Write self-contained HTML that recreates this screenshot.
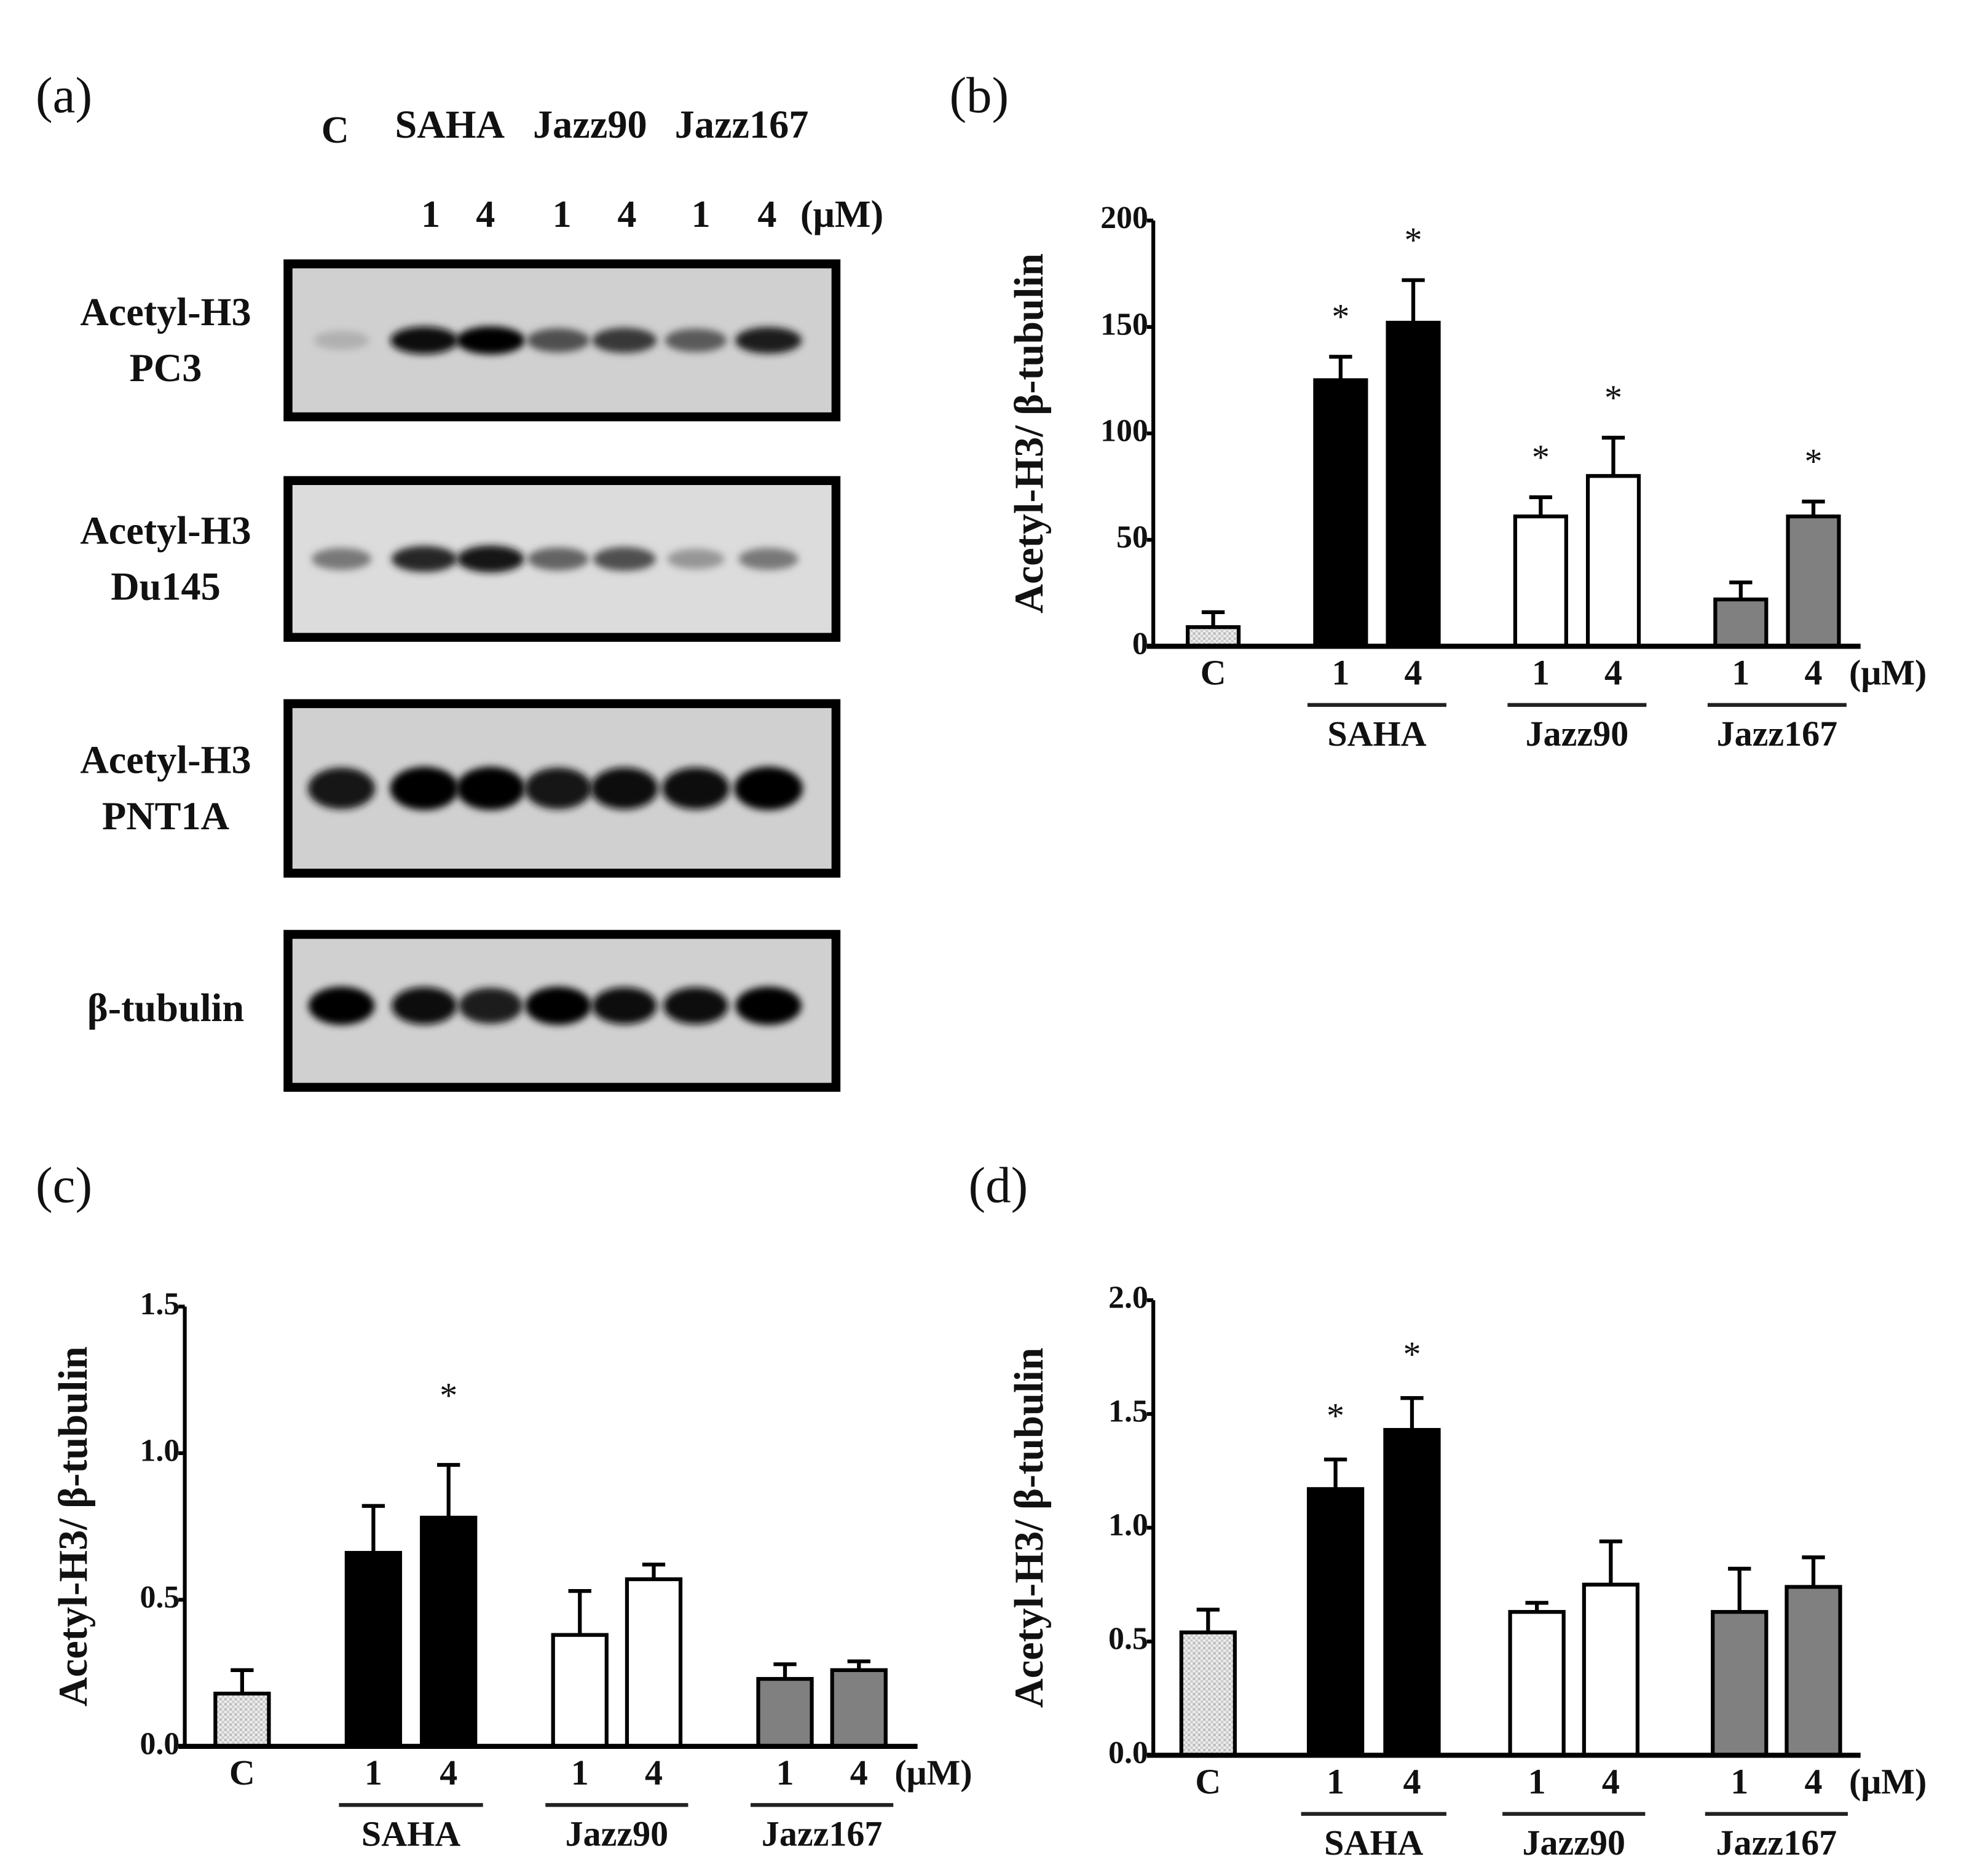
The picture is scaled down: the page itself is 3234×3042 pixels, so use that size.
<!DOCTYPE html>
<html><head><meta charset="utf-8">
<style>
html,body{margin:0;padding:0;background:#fff;}
svg{display:block;}
text{font-family:"Liberation Serif",serif;fill:#111;}
.b{font-weight:bold;}
</style></head>
<body>
<svg id="fig" width="3234" height="3042" viewBox="0 0 1560 1467" preserveAspectRatio="none" xmlns="http://www.w3.org/2000/svg">
<defs>
<pattern id="dots" width="4" height="4" patternUnits="userSpaceOnUse">
<rect width="4" height="4" fill="#eee"/><rect width="2" height="2" fill="#bbb"/><rect x="2" y="2" width="2" height="2" fill="#ccc"/>
</pattern>
<filter id="blur" x="-50%" y="-100%" width="200%" height="300%"><feGaussianBlur stdDeviation="3"/></filter>
</defs>
<g id="panelA">
<text x="28" y="88" font-size="40">(a)</text>
<text class="b" x="263" y="112" font-size="30" text-anchor="middle">C</text>
<text class="b" x="353" y="108" font-size="31" text-anchor="middle">SAHA</text>
<text class="b" x="463" y="108" font-size="31" text-anchor="middle">Jazz90</text>
<text class="b" x="582" y="108" font-size="31" text-anchor="middle">Jazz167</text>
<g id="doseHdr"></g>
<g id="blots"></g>
</g>
<g id="chartB"></g>
<g id="chartC"></g>
<g id="chartD"></g>
</svg>
<script>
// ---------- Data ----------
const categories = ["C","SAHA 1","SAHA 4","Jazz90 1","Jazz90 4","Jazz167 1","Jazz167 4"];
const doseLabels = ["C","1","4","1","4","1","4"];
const groupNames = ["SAHA","Jazz90","Jazz167"];
const fills = ["url(#dots)","#000","#000","#fff","#fff","#808080","#808080"];

const valuesB = [9,125,152,61,80,22,61];
const errB = [16,136,172,70,98,30,68];
const starsB = [false,true,true,true,true,false,true];
const ticksB = [0,50,100,150,200];
const tickLabelsB = ["0","50","100","150","200"];

const valuesC = [0.18,0.66,0.78,0.38,0.57,0.23,0.26];
const errC = [0.26,0.82,0.96,0.53,0.62,0.28,0.29];
const starsC = [false,false,true,false,false,false,false];
const ticksC = [0,0.5,1.0,1.5];
const tickLabelsC = ["0.0","0.5","1.0","1.5"];

const valuesD = [0.54,1.17,1.43,0.63,0.75,0.63,0.74];
const errD = [0.64,1.30,1.57,0.67,0.94,0.82,0.87];
const starsD = [false,true,true,false,false,false,false];
const ticksD = [0,0.5,1.0,1.5,2.0];
const tickLabelsD = ["0.0","0.5","1.0","1.5","2.0"];

// blot band intensities (0..1) per lane
const bandPC3 = [0.12,0.95,1.0,0.6,0.72,0.55,0.85];
const bandDu145 = [0.4,0.8,0.9,0.5,0.6,0.25,0.4];
const bandPNT1A = [0.9,1.0,1.0,0.9,0.92,0.92,1.0];
const bandTub = [1.0,0.95,0.85,1.0,0.92,0.92,1.0];

const NS = "http://www.w3.org/2000/svg";
function mk(tag, attrs, parent){const e=document.createElementNS(NS,tag);for(const k in attrs)e.setAttribute(k,attrs[k]);parent.appendChild(e);return e;}

// ---------- Panel A ----------
const laneX = [268,333,385,438,490,546,603];
const hdr = document.getElementById('doseHdr');
for(let i=1;i<7;i++){
  const t=mk('text',{x:[0,338,381,441,492,550,602][i],y:178,'font-size':30,'text-anchor':'middle','class':'b'},hdr);
  t.textContent=doseLabels[i];
  
  
}
{const t=mk('text',{x:628,y:178,'font-size':30,'class':'b'},hdr);t.textContent="(μM)";

}

const blotG=document.getElementById('blots');
const boxes=[[207,327],[377,500],[552,685],[733,853]];
const bandSets=[bandPC3,bandDu145,bandPNT1A,bandTub];
const bandH=[16,16,28,24];
const bandW=[21,21,21,20];
const labelLines=[["Acetyl-H3","PC3"],["Acetyl-H3","Du145"],["Acetyl-H3","PNT1A"],["β-tubulin"]];
boxes.forEach((bx,bi)=>{
  const g=mk('g',{},blotG);
  
  
  const r=mk('rect',{x:226,y:bx[0],width:430,height:bx[1]-bx[0],fill:bi==1?'#dcdcdc':'#d0d0d0',stroke:'#000','stroke-width':7},g);
  
  
  const cy=(bx[0]+bx[1])/2+ (bi==3?-4:0);
  bandSets[bi].forEach((v,li)=>{
    const c=Math.round(200*(1-v));
    const e=mk('ellipse',{cx:laneX[li],cy:cy,rx:bandW[bi]+v*6,ry:bandH[bi]*(0.5+0.5*v)/2+3,fill:`rgb(${c},${c},${c})`,filter:'url(#blur)'},g);
    
    
  });
  const lines=labelLines[bi];
  lines.forEach((s,k)=>{
    const y = lines.length==2 ? cy-12+k*44 : cy+12;
    const t=mk('text',{x:130,y:y,'font-size':31,'text-anchor':'middle','class':'b'},g);
    t.textContent=s;
    
    
  });
});

// ---------- Charts ----------
function chart(gid,cfg){
  const g=document.getElementById(gid);
  const yS=v=>cfg.y0-(v/cfg.ymax)*(cfg.y0-cfg.ytop);
  const lab=mk('text',{x:cfg.labelX,y:cfg.labelY,'font-size':40},g);
  lab.textContent=cfg.label;
  
  
  const yt=mk('text',{x:0,y:0,'font-size':32,'class':'b','text-anchor':'middle',transform:`translate(${cfg.titleX},${(cfg.y0+cfg.ytop)/2}) rotate(-90)`},g);
  yt.textContent="Acetyl-H3/ β-tubulin";
  
  
  cfg.values.forEach((v,i)=>{
    const cx=cfg.xs[i], w=cfg.bw;
    const el=mk('line',{x1:cx,x2:cx,y1:yS(v),y2:yS(cfg.err[i]),stroke:'#000','stroke-width':3},g);
    
    
    const ec=mk('line',{x1:cx-9,x2:cx+9,y1:yS(cfg.err[i]),y2:yS(cfg.err[i]),stroke:'#000','stroke-width':3},g);
    
    
    const r=mk('rect',{x:cx-w/2,y:yS(v),width:w,height:cfg.y0-yS(v),fill:fills[i],stroke:'#000','stroke-width':3},g);
    
    
    if(cfg.stars[i]){
      const s=mk('text',{x:cx,y:yS(cfg.err[i])-cfg.starGap,'font-size':28,'text-anchor':'middle'},g);
      s.textContent="*";
      
      
    }
    const xl=mk('text',{x:cx,y:cfg.y0+30,'font-size':28,'class':'b','text-anchor':'middle'},g);
    xl.textContent=doseLabels[i];
    
    
  });
  const u=mk('text',{x:cfg.xs[6]+28,y:cfg.y0+30,'font-size':28,'class':'b'},g);
  u.textContent="(μM)";
  
  
  const ya=mk('line',{x1:cfg.ax,x2:cfg.ax,y1:cfg.ytop,y2:cfg.y0,stroke:'#000','stroke-width':3},g);
  
  
  const xa=mk('line',{x1:cfg.ax-5,x2:cfg.xend,y1:cfg.y0,y2:cfg.y0,stroke:'#000','stroke-width':4},g);
  
  
  cfg.ticks.forEach((t,k)=>{
    const tk=mk('line',{x1:cfg.ax-5,x2:cfg.ax,y1:yS(t),y2:yS(t),stroke:'#000','stroke-width':3},g);
    
    
    const tl=mk('text',{x:cfg.ax-4,y:yS(t)+6,'font-size':25,'class':'b','text-anchor':'end'},g);
    tl.textContent=cfg.tickLabels[k];
    
    
  });
  groupNames.forEach((n,k)=>{
    const a=cfg.xs[1+2*k]-cfg.bw/2-6, b=cfg.xs[2+2*k]+cfg.bw/2+6;
    const gl=mk('line',{x1:a,x2:b,y1:cfg.y0+46,y2:cfg.y0+46,stroke:'#222','stroke-width':3},g);
    
    
    const gt=mk('text',{x:(a+b)/2,y:cfg.y0+78,'font-size':28,'class':'b','text-anchor':'middle'},g);
    gt.textContent=n;
    
    
  });
}

chart('chartB',{label:"(b)",labelX:745,labelY:88,titleX:818,ax:905,ytop:173,y0:507,ymax:200,xend:1460,bw:40,
  xs:[952,1052,1109,1209,1266,1366,1423],values:valuesB,err:errB,stars:starsB,ticks:ticksB,tickLabels:tickLabelsB,starGap:22});
chart('chartC',{label:"(c)",labelX:28,labelY:943,titleX:68,ax:145,ytop:1025,y0:1370,ymax:1.5,xend:720,bw:42,
  xs:[190,293,352,455,513,616,674],values:valuesC,err:errC,stars:starsC,ticks:ticksC,tickLabels:tickLabelsC,starGap:45});
chart('chartD',{label:"(d)",labelX:760,labelY:943,titleX:818,ax:905,ytop:1020,y0:1377,ymax:2.0,xend:1460,bw:42,
  xs:[948,1048,1108,1206,1264,1365,1423],values:valuesD,err:errD,stars:starsD,ticks:ticksD,tickLabels:tickLabelsD,starGap:25});
</script>
</body></html>
